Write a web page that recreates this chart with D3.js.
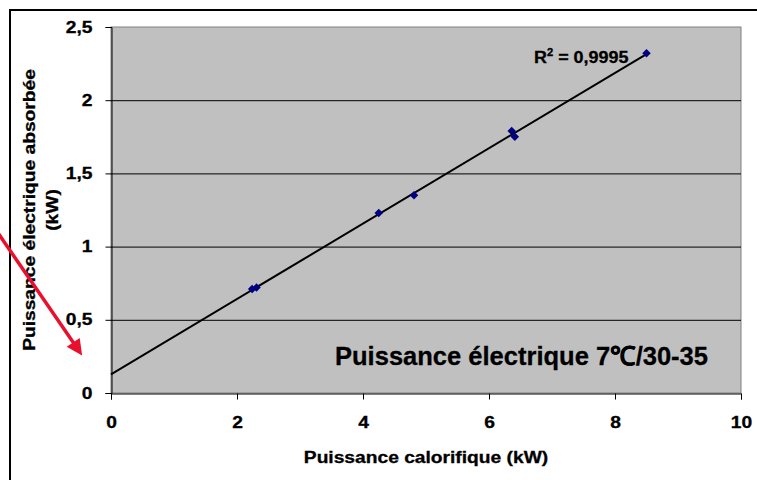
<!DOCTYPE html>
<html>
<head>
<meta charset="utf-8">
<script src="https://cdn.jsdelivr.net/npm/d3@7"></script>
<style>
  body { margin: 0; background: #fff; }
  text { font-family: Arial, "Liberation Sans", sans-serif; font-weight: bold; fill: #000; stroke: #000; stroke-width: 0.3px; }
</style>
</head>
<body>
<div class="d3"></div>
<script>
// data
const calorifique = [2.24, 2.31, 4.25, 4.81, 6.36, 6.41, 8.5];
const electrique = [0.71, 0.72, 1.23, 1.35, 1.79, 1.75, 2.32];
const xTicks = [0, 2, 4, 6, 8, 10];
const yTicks = [0, 0.5, 1, 1.5, 2, 2.5];
const r2Label = '0,9995';

let width = 757;
let height = 480;
let SX = 1.2; // axis texts are drawn a bit wider than their height

let svg = d3.select('.d3').append('svg')
  .attr('width', width)
  .attr('height', height);

let x = d3.scaleLinear().domain([0, 10]).range([111, 741]);
let y = d3.scaleLinear().domain([0, 2.5]).range([393, 27]);
let fmt = d => String(d).replace('.', ',');

function stretch(sel, k) {
  sel.each(function() {
    let w = this.getComputedTextLength();
    d3.select(this).attr('textLength', w * k).attr('lengthAdjust', 'spacingAndGlyphs');
  });
}

// outer chart frame
svg.append('rect')
  .attr('x', 10).attr('y', 10)
  .attr('width', 760).attr('height', 480)
  .attr('fill', 'none').attr('stroke', '#000').attr('stroke-width', 2);

// plot area
svg.append('rect')
  .attr('x', x(0)).attr('y', y(2.5))
  .attr('width', x(10) - x(0)).attr('height', y(0) - y(2.5))
  .attr('fill', '#c0c0c0').attr('stroke', '#808080').attr('stroke-width', 1);

// gridlines
svg.append('g').selectAll('line')
  .data(yTicks.filter(d => d > 0 && d < 2.5))
  .enter().append('line')
  .attr('x1', x(0)).attr('x2', x(10))
  .attr('y1', d => y(d) + 0.5).attr('y2', d => y(d) + 0.5)
  .attr('stroke', '#000').attr('stroke-width', 1);

// axes
let xAxis = svg.append('g')
  .attr('transform', `translate(0,${y(0) + 0.5})`)
  .call(d3.axisBottom(x).tickValues(xTicks).tickSize(6).tickPadding(17).tickFormat(fmt));
let yAxis = svg.append('g')
  .attr('transform', `translate(${x(0) + 0.5},0)`)
  .call(d3.axisLeft(y).tickValues(yTicks).tickSize(6).tickPadding(13).tickFormat(fmt));

[xAxis, yAxis].forEach(a => {
  a.select('.domain').attr('stroke', '#000');
  a.selectAll('.tick line').attr('stroke', '#000');
  a.selectAll('.tick text')
    .attr('fill', '#000')
    .style('font-size', '16px');
  stretch(a.selectAll('.tick text'), SX);
});

// trend line (least squares)
let mx = d3.mean(calorifique), my = d3.mean(electrique);
let sxy = d3.sum(calorifique, (v, i) => (v - mx) * (electrique[i] - my));
let sxx = d3.sum(calorifique, v => (v - mx) * (v - mx));
let slope = sxy / sxx;
let icpt = my - slope * mx;
let trend = [0, d3.max(calorifique)].map(v => [v, icpt + slope * v]);

svg.append('path')
  .datum(trend)
  .attr('d', d3.line().x(d => x(d[0])).y(d => y(d[1])))
  .attr('stroke', '#000').attr('stroke-width', 2).attr('fill', 'none');

// points (square diamonds)
svg.append('g').selectAll('path')
  .data(calorifique)
  .enter().append('path')
  .attr('d', d3.symbol().type(d3.symbolSquare).size(36))
  .attr('transform', (d, i) => `translate(${x(d)},${y(electrique[i])}) rotate(45)`)
  .attr('fill', '#000080');

// R² label
let r2 = svg.append('text')
  .attr('x', 534).attr('y', 63)
  .style('font-size', '16px');
r2.append('tspan').text('R');
r2.append('tspan').attr('dy', -7).style('font-size', '10px').text('2');
r2.append('tspan').attr('dy', 7).text(' = ' + r2Label);
stretch(r2, 1.12);

// axis titles
let xt = svg.append('text')
  .attr('x', (x(0) + x(10)) / 2).attr('y', 463)
  .attr('text-anchor', 'middle')
  .style('font-size', '16px')
  .text('Puissance calorifique (kW)');
stretch(xt, SX);

let yt1 = svg.append('text')
  .attr('transform', 'translate(35,210) rotate(-90)')
  .attr('text-anchor', 'middle')
  .style('font-size', '16px')
  .text('Puissance électrique absorbée');
stretch(yt1, SX);
let yt2 = svg.append('text')
  .attr('transform', 'translate(58,210) rotate(-90)')
  .attr('text-anchor', 'middle')
  .style('font-size', '16px')
  .text('(kW)');
stretch(yt2, SX);

// caption inside the plot
svg.append('text')
  .attr('x', 335).attr('y', 365)
  .style('font-size', '26px')
  .attr('textLength', 373).attr('lengthAdjust', 'spacingAndGlyphs')
  .text('Puissance électrique 7℃/30-35');

// red arrow
let defs = svg.append('defs');
defs.append('marker')
  .attr('id', 'head')
  .attr('viewBox', '0 0 10 10')
  .attr('refX', 2).attr('refY', 5)
  .attr('markerWidth', 5.5).attr('markerHeight', 4.5)
  .attr('markerUnits', 'strokeWidth')
  .attr('orient', 'auto')
  .append('path')
  .attr('d', 'M0,0 L10,5 L0,10 Z')
  .attr('fill', '#e8112d');
svg.append('line')
  .attr('x1', -2).attr('y1', 233)
  .attr('x2', 75).attr('y2', 345)
  .attr('stroke', '#e8112d').attr('stroke-width', 3.5)
  .attr('marker-end', 'url(#head)');
</script>
</body>
</html>
